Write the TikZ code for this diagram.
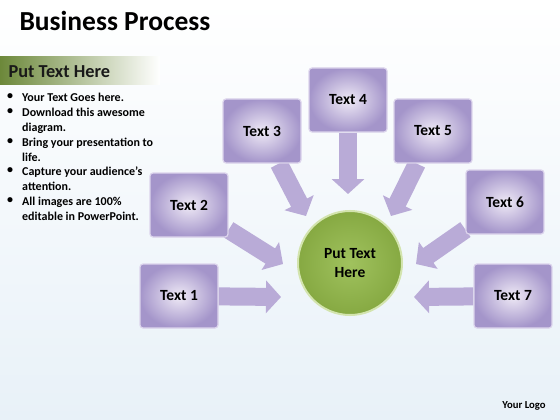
\documentclass[tikz,border=0pt]{standalone}
\usepackage{fontspec}
\setmainfont{Carlito}
\usepackage{tikz}
\usetikzlibrary{arrows.meta}

\definecolor{boxedge}{HTML}{DCD4EC}
\definecolor{boxin}{HTML}{EFEAF6}
\definecolor{boxout}{HTML}{A495CA}
\definecolor{arrowfill}{HTML}{B9ABD7}
\definecolor{hubin}{HTML}{A0C25E}
\definecolor{hubout}{HTML}{86A942}
\definecolor{hubedge}{HTML}{D3E4AE}
\definecolor{headgreen}{HTML}{6C883A}
\definecolor{bgblue}{HTML}{E8F1F8}

\pgfdeclarelayer{bg}
\pgfsetlayers{bg,main}

\begin{document}
\begin{tikzpicture}[x=1pt, y=-1pt,
    stepbox/.style={rectangle, rounded corners=3pt, minimum width=78pt, minimum height=64pt,
      inner color=boxin, outer color=boxout, draw=boxedge, line width=1.2pt,
      font=\fontsize{15.5}{18}\selectfont\bfseries},
    hub/.style={circle, minimum size=104pt, inner color=hubin, outer color=hubout,
      draw=hubedge, line width=2pt, align=center, font=\fontsize{15.5}{19}\selectfont\bfseries},
    blockarrow/.style={draw=arrowfill, line width=18pt, -{Triangle[width=32pt,length=15pt]}},
    bullettext/.style={anchor=north west, align=left, inner sep=0pt,
      font=\fontsize{12}{14.8}\selectfont\bfseries}]
        \useasboundingbox (0,0) rectangle (560,420);

        % Draw the background
        \begin{pgfonlayer}{bg}
        \fill[top color=white, bottom color=bgblue] (0,0) rectangle (560,420);
        \end{pgfonlayer}

        % Title and side panel
        \node[anchor=west, font=\fontsize{27.5}{30}\selectfont\bfseries] (title) at (16,21) {Business Process};
        \fill[left color=headgreen, right color=white] (0,57) rectangle (160,85);
        \node[anchor=west, text=black!90, font=\fontsize{18.3}{20}\selectfont\bfseries] (head) at (5,72) {Put Text Here};

        \foreach \y/\txt [count=\i] in {93/{Your Text Goes here.},
            108/{Download this awesome\\diagram.},
            138/{Bring your presentation to\\life.},
            167/{Capture your audience’s\\attention.},
            197/{All images are 100\%\\editable in PowerPoint.}} {
            \node[bullettext] (dot\i) at (7,\y) {\textbullet};
            \node[bullettext] (item\i) at (22,\y) {\txt};
        }

        % Draw the boxes and the hub
        \node[hub] (hub) at (350,263) {Put Text\\Here};
        \node[stepbox] (t1) at (179,296) {Text 1};
        \node[stepbox] (t2) at (189,205) {Text 2};
        \node[stepbox] (t3) at (262,131) {Text 3};
        \node[stepbox] (t4) at (348,100) {Text 4};
        \node[stepbox] (t5) at (433,131) {Text 5};
        \node[stepbox] (t6) at (505,202) {Text 6};
        \node[stepbox] (t7) at (513,296) {Text 7};

        % Arrow tips
        \coordinate (e1) at (281,297);
        \coordinate (e2) at (283,264);
        \coordinate (e3) at (306,216);
        \coordinate (e4) at (348,194);
        \coordinate (e5) at (391,216);
        \coordinate (e6) at (416,264);
        \coordinate (e7) at (414,297);

        % Draw the arrows
        \begin{pgfonlayer}{bg}
        \foreach \i in {1,...,7}
            \draw[blockarrow] (t\i) -- (e\i);
        \end{pgfonlayer}

        \node[font=\fontsize{10.7}{12}\selectfont\bfseries] (logo) at (524,406) {Your Logo};
    \end{tikzpicture}
\end{document}
